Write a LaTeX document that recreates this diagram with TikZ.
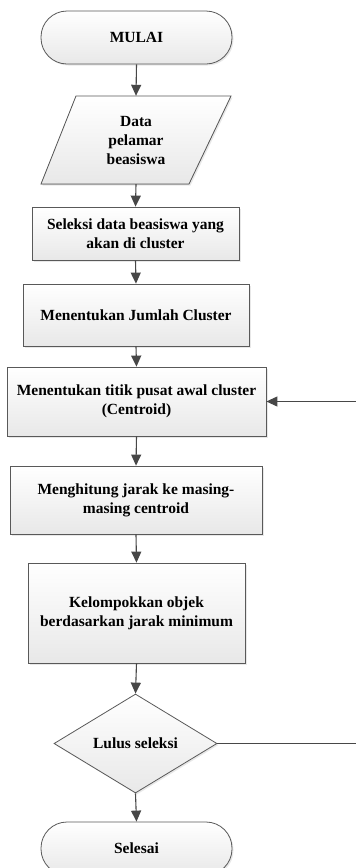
\documentclass[tikz,border=0pt]{standalone}
\usepackage{fontspec}
\setmainfont{Liberation Serif}
\usetikzlibrary{arrows.meta,shapes.geometric,shadows}
\begin{document}
\begin{tikzpicture}[x=1pt,y=-1pt,
  base/.style={draw=black!65, line width=0.8pt, top color=white, bottom color=black!9,
    drop shadow={opacity=0.18, shadow xshift=1.5pt, shadow yshift=-1.5pt},
    align=center, font=\fontsize{15.5}{19}\selectfont\bfseries, inner sep=0pt},
  box/.style={base, rectangle},
  term/.style={base, rectangle, rounded corners=26pt},
  dec/.style={base, diamond},
  lbl/.style={align=center, font=\fontsize{15.5}{19}\selectfont\bfseries, inner sep=0pt},
  arr/.style={draw=black!72, line width=1.1pt, -{Triangle[width=10pt,length=11pt]}},
  ln/.style={draw=black!72, line width=1.1pt},
]
\useasboundingbox (0,0) rectangle (356,868);
\clip (0,0) rectangle (356,868);
\fill[white] (0,0) rectangle (356,868);

\node[term, minimum width=191pt, minimum height=53pt] (start) at (136.5,37.5) {MULAI};

\filldraw[draw=black!65, line width=0.8pt, top color=white, bottom color=black!9,
  drop shadow={opacity=0.18, shadow xshift=1.5pt, shadow yshift=-1.5pt}]
  (76,96) -- (231,96) -- (189,184) -- (41,184) -- cycle;
\node[lbl, minimum width=100pt, minimum height=88pt] (data) at (136,140) {Data\\pelamar\\beasiswa};

\node[box, minimum width=207pt, minimum height=53pt] (b1) at (135.5,233.5) {Seleksi data beasiswa yang\\akan di cluster};
\node[box, minimum width=226pt, minimum height=62pt] (b2) at (136,315) {Menentukan Jumlah Cluster};
\node[box, minimum width=259pt, minimum height=69pt] (b3) at (136.5,401.5) {Menentukan titik pusat awal cluster\\(Centroid)};
\node[box, minimum width=252pt, minimum height=68pt] (b4) at (136,500) {Menghitung jarak ke masing-\\masing centroid};
\node[box, minimum width=217pt, minimum height=100pt] (b5) at (136.5,613) {Kelompokkan objek\\berdasarkan jarak minimum};
\node[dec, minimum width=163pt, minimum height=99pt] (d) at (135.5,743.5) {Lulus seleksi};
\node[term, minimum width=191pt, minimum height=53pt] (end) at (136.5,848.5) {Selesai};

\coordinate (r1) at (356,743.5);
\coordinate (r2) at (356,401.5);

\draw[arr] (start.south) -- (data.north);
\draw[arr] (data.south) -- (b1.north);
\draw[arr] (b1.south) -- (b2.north);
\draw[arr] (b2.south) -- (b3.north);
\draw[arr] (b3.south) -- (b4.north);
\draw[arr] (b4.south) -- (b5.north);
\draw[arr] (b5.south) -- (d.north);
\draw[arr] (d.south) -- (end.north);
\draw[ln] (d.east) -- (r1);
\draw[arr] (r2) -- (b3.east);
\end{tikzpicture}
\end{document}
